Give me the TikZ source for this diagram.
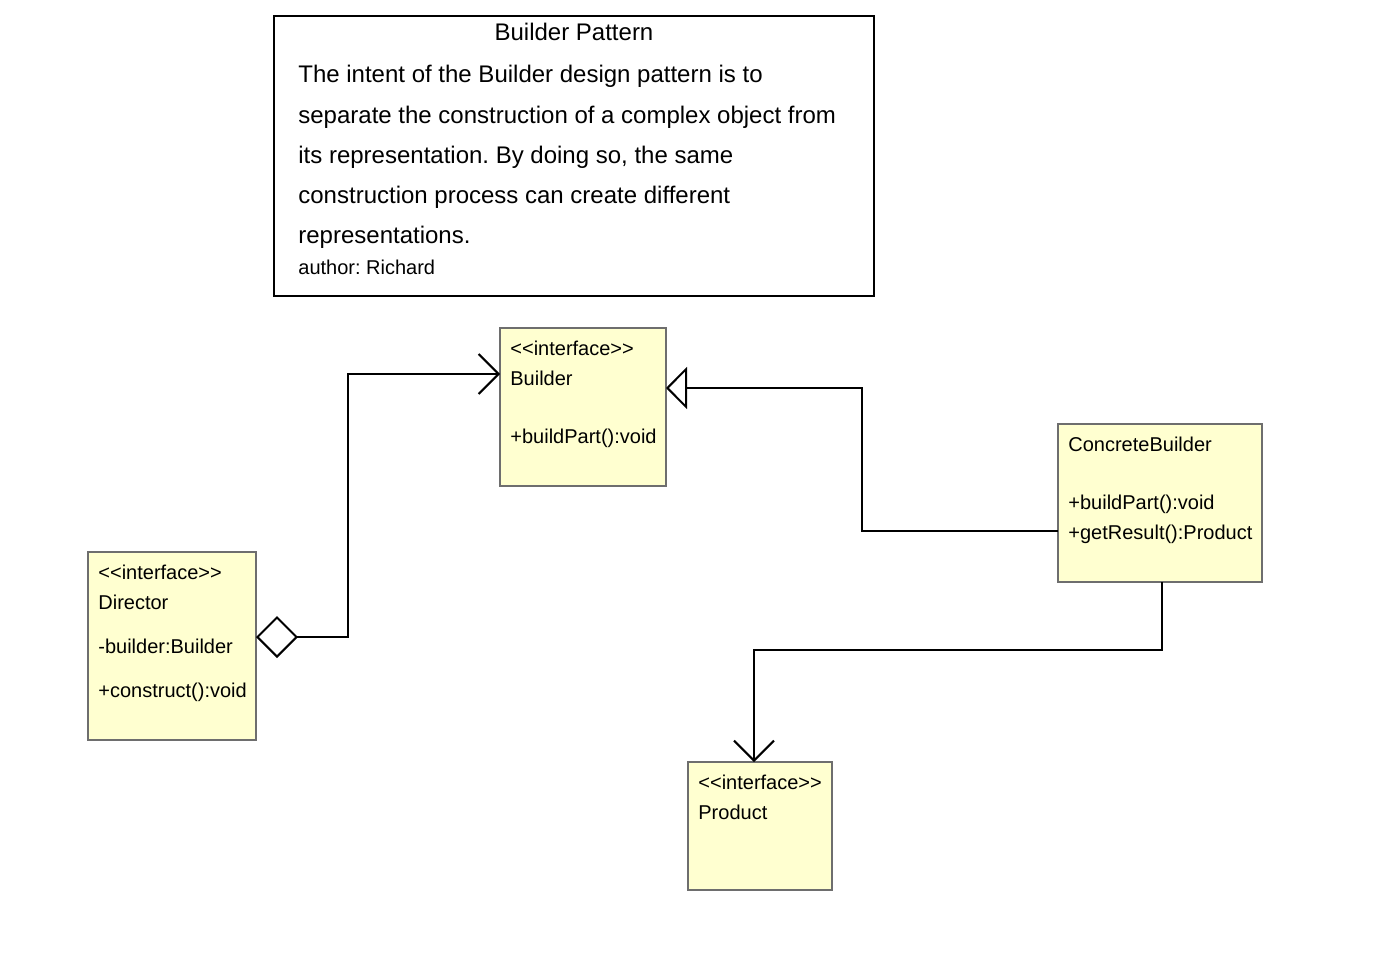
\documentclass[tikz,border=0pt]{standalone}
\usepackage{fontspec}
\setmainfont{Liberation Sans}[Ligatures=TeXOff]
\usetikzlibrary{arrows.meta}
\definecolor{clsfill}{HTML}{FFFFD0}
\definecolor{clsdraw}{HTML}{6E6E6E}
\frenchspacing
\tikzset{
  cls/.style={draw=clsdraw, fill=clsfill, line width=1pt, anchor=north west, inner sep=0pt, outer sep=0pt},
  notebox/.style={draw=black, fill=white, line width=1pt, anchor=north west, inner sep=0pt, outer sep=0pt},
  ctext/.style={anchor=base west, inner sep=0pt, font=\fontsize{10pt}{12pt}\selectfont},
  ntext/.style={anchor=base west, inner sep=0pt, font=\fontsize{12pt}{14pt}\selectfont},
  conn/.style={draw=black, line width=1pt},
  assoc/.style={conn, -{Straight Barb[length=10pt, width=20pt]}},
  realize/.style={conn, -{Triangle[open, length=10.5pt, width=21pt, fill=white]}},
  aggr/.style={conn, {Diamond[open, length=21pt, width=21pt, fill=white]}-{Straight Barb[length=10pt, width=20pt]}}
}
\begin{document}
\begin{tikzpicture}[x=0.5pt, y=-0.5pt]
\useasboundingbox (0,0) rectangle (1394,958);
% note
\node[notebox, minimum width=300pt, minimum height=140pt] (note) at (274,16) {};
\node[anchor=base, inner sep=0pt, font=\fontsize{12pt}{14pt}\selectfont] (title) at (574,40) {Builder Pattern};
\node[ntext] (l1) at (298,83) {The intent of the Builder design pattern is to};
\node[ntext] (l2) at (298,123) {separate the construction of a complex object from};
\node[ntext] (l3) at (298,163) {its representation. By doing so, the same};
\node[ntext] (l4) at (298,203) {construction process can create different};
\node[ntext] (l5) at (298,243) {representations.};
\node[ctext] (auth) at (298,274) {author: Richard};
% classes
\node[cls, minimum width=83pt, minimum height=79pt] (builder) at (500,328) {};
\node[ctext] (b1) at (510,355) {<<interface>>};
\node[ctext] (b2) at (510,385) {Builder};
\node[ctext] (b3) at (510,443) {+buildPart():void};
\node[cls, minimum width=84pt, minimum height=94pt] (director) at (88,552) {};
\node[ctext] (d1) at (98,579) {<<interface>>};
\node[ctext] (d2) at (98,609) {Director};
\node[ctext] (d3) at (98,653) {-builder:Builder};
\node[ctext] (d4) at (98,697) {+construct():void};
\node[cls, minimum width=102pt, minimum height=79pt] (concrete) at (1058,424) {};
\node[ctext] (c1) at (1068,451) {ConcreteBuilder};
\node[ctext] (c2) at (1068,509) {+buildPart():void};
\node[ctext] (c3) at (1068,539) {+getResult():Product};
\node[cls, minimum width=72pt, minimum height=64pt] (product) at (688,762) {};
\node[ctext] (p1) at (698,789) {<<interface>>};
\node[ctext] (p2) at (698,819) {Product};
% connectors
\draw[aggr] ([yshift=4.5pt]director.east) -- ++(92,0) |- ([yshift=16.5pt]builder.west);
\draw[realize] ([yshift=-14pt]concrete.west) -- ++(-196,0) |- ([yshift=9.5pt]builder.east);
\draw[assoc] ([xshift=1pt]concrete.south) -- ++(0,68) -| ([xshift=-3pt]product.north);
\end{tikzpicture}
\end{document}
